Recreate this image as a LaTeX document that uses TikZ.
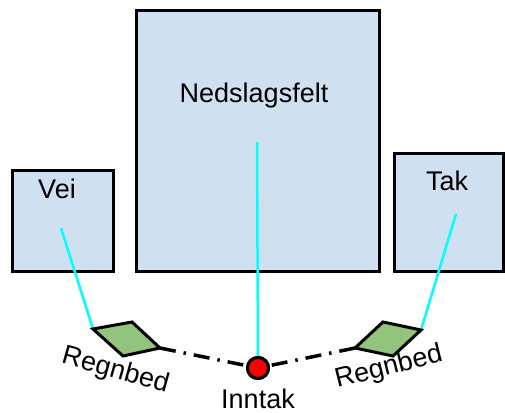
\documentclass[tikz,border=0pt]{standalone}
\usepackage{fontspec}
\setmainfont{Liberation Sans}
\begin{document}
\begin{tikzpicture}[x=1pt,y=-1pt,
  box/.style={draw=black,line width=3pt,fill=boxblue},
  lbl/.style={font=\fontsize{27}{31}\selectfont,anchor=base,inner sep=0pt},
  feed/.style={draw=aqua,line width=2.5pt},
  flow/.style={draw=black,line width=3.5pt,dash pattern=on 16pt off 8pt on 2.5pt off 8pt},
  bed/.style={draw=black,line width=3pt,fill=bedgreen,line join=miter},
  inlet/.style={circle,draw=black,line width=3pt,fill=red,minimum size=21pt,inner sep=0pt}]
\definecolor{boxblue}{RGB}{207,224,241}
\definecolor{bedgreen}{RGB}{147,196,125}
\definecolor{aqua}{RGB}{0,255,255}
\useasboundingbox (0,0) rectangle (505,412);
% boxes
\draw[box] (12,170) rectangle (113,271);
\draw[box] (136,11) rectangle (379,271);
\draw[box] (394,153) rectangle (503,271);
% labels
\node[lbl] (vei) at (57,198) {Vei};
\node[lbl] (ned) at (254,102) {Nedslagsfelt};
\node[lbl] (tak) at (447,190) {Tak};
% coordinates
\coordinate (veiS) at (61,228);
\coordinate (nedS) at (257,142);
\coordinate (takS) at (456,214);
\coordinate (b1l) at (93,329);
\coordinate (b1t) at (132,322);
\coordinate (b1r) at (160,348);
\coordinate (b1b) at (123,356);
\coordinate (b2l) at (355,348);
\coordinate (b2t) at (383,322);
\coordinate (b2r) at (421,330);
\coordinate (b2b) at (393,356);
\node[inlet] (inn) at (258,368) {};
% feeds
\draw[feed] (veiS) -- (b1l);
\draw[feed] (nedS) -- (inn.north);
\draw[feed] (takS) -- (b2r);
% flows
\draw[flow] (b1r) -- (inn);
\draw[flow] (b2l) -- (inn);
% beds
\draw[bed] (b1l) -- (b1t) -- (b1r) -- (b1b) -- cycle;
\draw[bed] (b2l) -- (b2t) -- (b2r) -- (b2b) -- cycle;
\node[inlet] at (inn) {};
% bed labels
\node[lbl,rotate=-15.5] (rb1) at (113.5,377.5) {Regnbed};
\node[lbl,rotate=14] (rb2) at (390.5,374.5) {Regnbed};
\node[lbl] (inl) at (258,408) {Inntak};
\end{tikzpicture}
\end{document}
